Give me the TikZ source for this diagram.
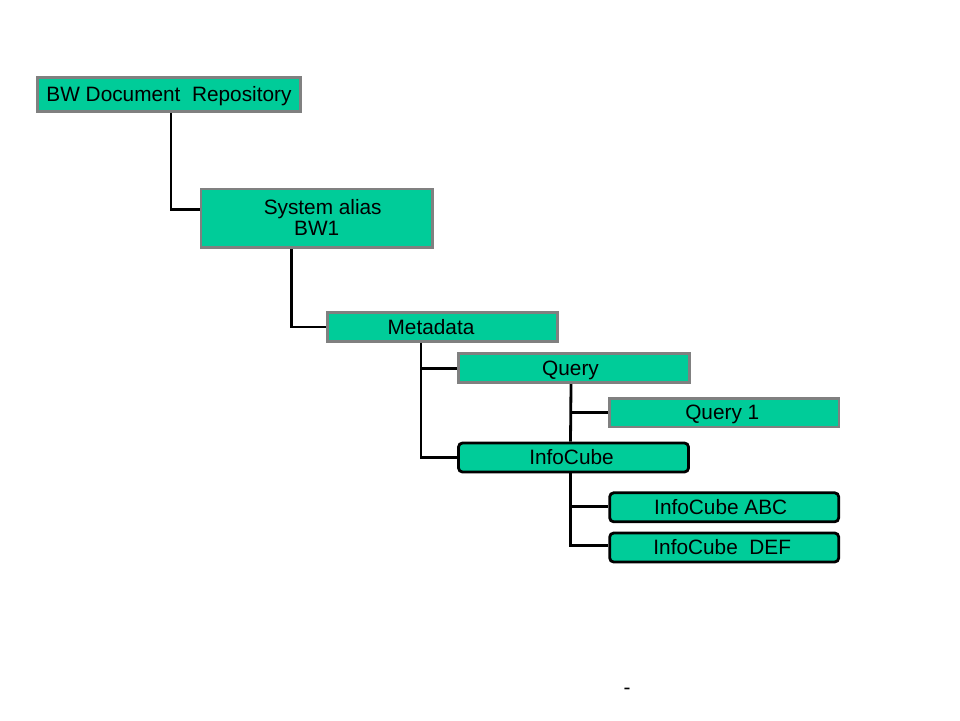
\documentclass[tikz,border=0pt]{standalone}
\usepackage{fontspec}
\setmainfont{Liberation Sans}
\definecolor{boxfill}{RGB}{0,204,153}
\definecolor{boxgray}{RGB}{128,128,128}
\tikzset{
  txt/.style={font=\fontsize{20.8}{21}\selectfont, text height=14pt, text depth=0pt, inner sep=0pt, align=center},
  graybox/.style={txt, draw=boxgray, fill=boxfill, line width=2.8pt},
  blackbox/.style={txt, draw=black, fill=boxfill, line width=2.8pt, rounded corners=4pt},
  conn/.style={draw=black, line width=2.8pt}
}
\begin{document}
\begin{tikzpicture}[x=1pt,y=-1pt]
\useasboundingbox (0,0) rectangle (960,720);
\node[graybox, minimum width=263pt, minimum height=34pt] (bw) at (169,94.5) {BW Document\ \ Repository};
\node[graybox, minimum width=231.5pt, minimum height=58.5pt, text height=35pt] (sys) at (316.7,218.2) {\hspace*{12pt}System alias\\BW1};
\node[graybox, minimum width=230pt, minimum height=29pt] (meta) at (442.5,327) {Metadata\hspace*{23pt}};
\node[graybox, minimum width=231pt, minimum height=29pt] (query) at (574,368.3) {Query\hspace*{7pt}};
\node[graybox, minimum width=229.5pt, minimum height=28.5pt] (query1) at (724.3,412.8) {Query 1\hspace*{4pt}};
\node[blackbox, minimum width=230pt, minimum height=29pt] (info) at (573.5,457.5) {InfoCube\hspace*{4pt}};
\node[blackbox, minimum width=229pt, minimum height=29pt] (abc) at (724.2,507.3) {InfoCube ABC\hspace*{7pt}};
\node[blackbox, minimum width=229pt, minimum height=29pt] (def) at (724.2,547.5) {InfoCube\ \ DEF\hspace*{4pt}};
\node[font=\fontsize{20.8}{21}\selectfont, inner sep=0pt, anchor=base] (dash) at (627,694) {-};
\draw[conn] ([xshift=2pt]bw.south) |- ([yshift=8.5pt]sys.west);
\draw[conn] ([xshift=-25pt]sys.south) |- (meta.west);
\draw[conn] ([xshift=-21.5pt]meta.south) |- (query.west);
\draw[conn] ([xshift=-21.5pt]meta.south) |- (info.west);
\draw[conn] ([xshift=-3pt]query.south) -- ([xshift=-3pt]info.north);
\draw[conn] ([xshift=-3pt]query.south) |- (query1.west);
\draw[conn] ([xshift=-3pt]info.south) |- ([yshift=0.5pt]abc.west);
\draw[conn] ([xshift=-3pt]info.south) |- ([yshift=2pt]def.west);
\end{tikzpicture}
\end{document}
